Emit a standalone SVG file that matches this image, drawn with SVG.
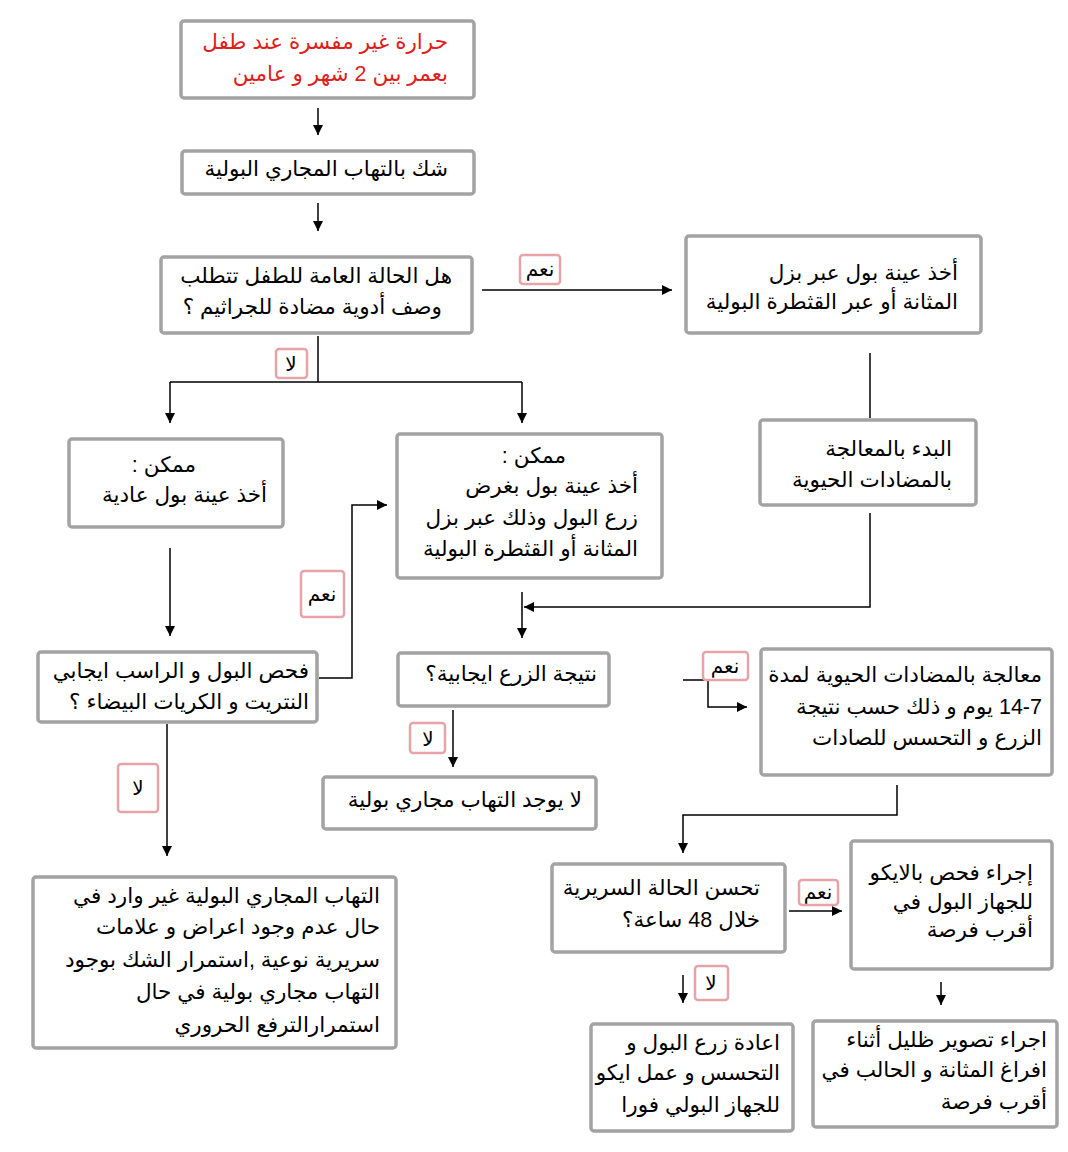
<svg xmlns="http://www.w3.org/2000/svg" width="1068" height="1152" viewBox="0 0 1068 1152">
<defs>
<marker id="ah" viewBox="0 0 10 10" refX="10" refY="5" markerWidth="10" markerHeight="10" markerUnits="userSpaceOnUse" orient="auto">
<path d="M0,0 L10,5 L0,10 z" fill="#000"/>
</marker>
</defs>
<style>
.box{fill:#fff;stroke:#a3a3a3;stroke-width:3.5}
.lbl{fill:#fff;stroke:#e8a3a8;stroke-width:2.5}
text{font-family:"Liberation Sans","DejaVu Sans",sans-serif;font-size:21.5px;fill:#000;direction:rtl;text-anchor:start}
.red{fill:#e0201c}
.lt{font-size:20px;text-anchor:middle;direction:rtl}
.c{stroke:#000;stroke-width:1.5;fill:none}
.a{marker-end:url(#ah)}
</style>
<rect width="1068" height="1152" fill="#fff"/>
<g id="connectors">
<path class="c a" d="M318,108 V135"/>
<path class="c a" d="M318,203 V231"/>
<path class="c a" d="M482,290 H672"/>
<path class="c" d="M318,336 V382 M170,382 H522"/>
<path class="c a" d="M170,382 V423"/>
<path class="c a" d="M522,382 V423"/>
<path class="c" d="M870,353 V418"/>
<path class="c a" d="M870,513 V607 H524"/>
<path class="c a" d="M522,592 V638"/>
<path class="c a" d="M170,548 V636"/>
<path class="c a" d="M319,678 H352 V505 H387"/>
<path class="c a" d="M167,724 V856"/>
<path class="c a" d="M453,710 V767"/>
<path class="c a" d="M683,680 H708 V707 H747"/>
<path class="c a" d="M897,785 V815 H683 V853"/>
<path class="c a" d="M789,911 H842"/>
<path class="c a" d="M683,975 V1003"/>
<path class="c a" d="M941,982 V1005"/>
</g>
<g id="labels">
<g id="lbl-yes1"><rect class="lbl" x="520" y="255" width="40" height="29" rx="3"/><text class="lt" x="540" y="276">نعم</text></g>
<g id="lbl-no1"><rect class="lbl" x="276" y="349" width="31" height="29" rx="3"/><text class="lt" x="291" y="371">لا</text></g>
<g id="lbl-yes2"><rect class="lbl" x="301" y="571" width="43" height="46" rx="3"/><text class="lt" x="322" y="601">نعم</text></g>
<g id="lbl-no2"><rect class="lbl" x="118" y="764" width="40" height="48" rx="3"/><text class="lt" x="138" y="795">لا</text></g>
<g id="lbl-no3"><rect class="lbl" x="410" y="723" width="35" height="30" rx="3"/><text class="lt" x="428" y="746">لا</text></g>
<g id="lbl-yes3"><rect class="lbl" x="703" y="652" width="45" height="28" rx="3"/><text class="lt" x="725" y="673">نعم</text></g>
<g id="lbl-yes4"><rect class="lbl" x="799" y="880" width="39" height="25" rx="3"/><text class="lt" x="818" y="899">نعم</text></g>
<g id="lbl-no4"><rect class="lbl" x="695" y="966" width="33" height="34" rx="3"/><text class="lt" x="711" y="990">لا</text></g>
</g>
<g id="n1"><rect class="box" x="181" y="21" width="293" height="77" rx="3"/>
<text class="red" x="448" y="49">حرارة غير مفسرة عند طفل</text>
<text class="red" x="448" y="81">بعمر بين 2 شهر و عامين</text></g>
<g id="n2"><rect class="box" x="182" y="151" width="292" height="43" rx="3"/>
<text x="448" y="176">شك بالتهاب المجاري البولية</text></g>
<g id="n3"><rect class="box" x="161" y="257" width="311" height="76" rx="3"/>
<text x="452" y="283">هل الحالة العامة للطفل تتطلب</text>
<text x="442" y="314">وصف أدوية مضادة للجراثيم ؟</text></g>
<g id="n4"><rect class="box" x="686" y="236" width="295" height="97" rx="3"/>
<text x="958" y="280">أخذ عينة بول عبر بزل</text>
<text x="958" y="309">المثانة أو عبر القثطرة البولية</text></g>
<g id="n5"><rect class="box" x="69" y="439" width="214" height="88" rx="3"/>
<text x="196" y="472">ممكن :</text>
<text x="267" y="502">أخذ عينة بول عادية</text></g>
<g id="n6"><rect class="box" x="397" y="434" width="265" height="144" rx="3"/>
<text x="566" y="463">ممكن :</text>
<text x="638" y="493">أخذ عينة بول بغرض</text>
<text x="638" y="525">زرع البول وذلك عبر بزل</text>
<text x="638" y="556">المثانة أو القثطرة البولية</text></g>
<g id="n7"><rect class="box" x="760" y="420" width="216" height="85" rx="3"/>
<text x="952" y="456">البدء بالمعالجة</text>
<text x="952" y="487">بالمضادات الحيوية</text></g>
<g id="n8"><rect class="box" x="38" y="652" width="279" height="70" rx="3"/>
<text x="309" y="678">فحص البول و الراسب ايجابي</text>
<text x="309" y="709">النتريت و الكريات البيضاء ؟</text></g>
<g id="n9"><rect class="box" x="398" y="653" width="211" height="53" rx="3"/>
<text x="597" y="681">نتيجة الزرع ايجابية؟</text></g>
<g id="n10"><rect class="box" x="761" y="649" width="291" height="126" rx="3"/>
<text x="1042" y="682">معالجة بالمضادات الحيوية لمدة</text>
<text x="1042" y="714">14-7 يوم و ذلك حسب نتيجة</text>
<text x="1042" y="745">الزرع و التحسس للصادات</text></g>
<g id="n11"><rect class="box" x="323" y="777" width="273" height="52" rx="3"/>
<text x="582" y="807">لا يوجد التهاب مجاري بولية</text></g>
<g id="n12"><rect class="box" x="33" y="877" width="363" height="171" rx="3"/>
<text x="380" y="903">التهاب المجاري البولية غير وارد في</text>
<text x="380" y="934">حال عدم وجود اعراض و علامات</text>
<text x="380" y="967">سريرية نوعية ,استمرار الشك بوجود</text>
<text x="380" y="999">التهاب مجاري بولية في حال</text>
<text x="380" y="1032">استمرارالترفع الحروري</text></g>
<g id="n13"><rect class="box" x="552" y="864" width="233" height="88" rx="3"/>
<text x="760" y="895">تحسن الحالة السريرية</text>
<text x="760" y="927">خلال 48 ساعة؟</text></g>
<g id="n14"><rect class="box" x="851" y="841" width="201" height="128" rx="3"/>
<text x="1033" y="880">إجراء فحص بالايكو</text>
<text x="1033" y="909">للجهاز البول في</text>
<text x="1033" y="937">أقرب فرصة</text></g>
<g id="n15"><rect class="box" x="591" y="1024" width="202" height="107" rx="3"/>
<text x="780" y="1050">اعادة زرع البول و</text>
<text x="780" y="1080">التحسس و عمل ايكو</text>
<text x="780" y="1112">للجهاز البولي فورا</text></g>
<g id="n16"><rect class="box" x="813" y="1021" width="244" height="106" rx="3"/>
<text x="1047" y="1047">اجراء تصوير ظليل أثناء</text>
<text x="1047" y="1077">افراغ المثانة و الحالب في</text>
<text x="1047" y="1109">أقرب فرصة</text></g>
</svg>
